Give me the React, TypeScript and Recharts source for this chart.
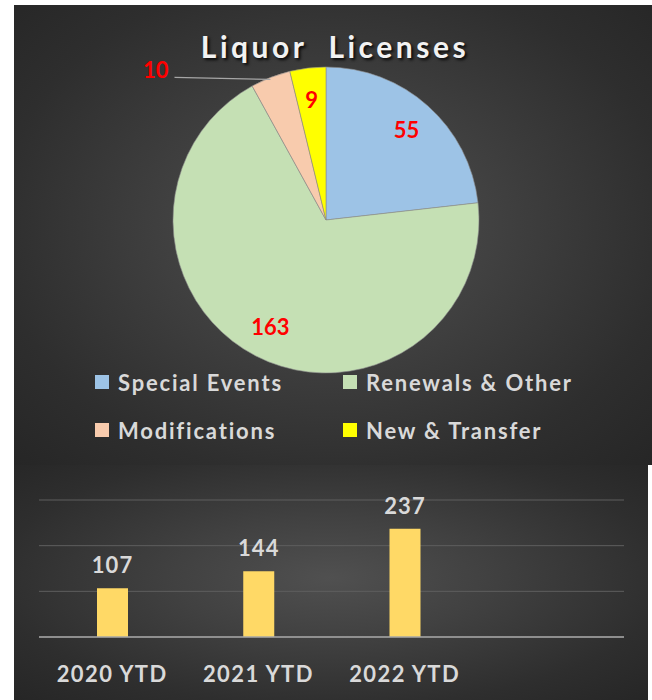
import React from "react";
import {
  PieChart,
  Pie,
  Cell,
  BarChart,
  Bar,
  XAxis,
  YAxis,
  CartesianGrid,
  LabelList,
} from "recharts";

// pie: liquor licenses by type
const SLICE_NAMES = ["Special Events", "Renewals & Other", "Modifications", "New & Transfer"];
const SLICE_VALUES = [55, 163, 10, 9];
const SLICE_COLORS = ["#9dc3e6", "#c5e0b4", "#f8cbad", "#ffff00"];
const OUTSIDE_LABEL = "Modifications";

// bars: year to date totals (4th slot is empty in the original)
const BAR_CATEGORIES = ["2020 YTD", "2021 YTD", "2022 YTD", ""];
const BAR_VALUES = [107, 144, 237, null];
const BAR_TICKS = [0, 100, 200, 300];

const FONT = "Lato, 'Open Sans', sans-serif";
const RAD = Math.PI / 180;

const pieData = SLICE_NAMES.map((name, i) => ({ name, value: SLICE_VALUES[i] }));
const barData = BAR_CATEGORIES.map((cat, i) => ({ cat, value: BAR_VALUES[i] }));

const panelBg =
  "radial-gradient(ellipse at 50% 48%, #505050 0%, #414141 35%, #2e2e2e 75%, #262626 100%)";

function renderSliceLabel(props: any) {
  const { cx, cy, midAngle, outerRadius, value, name } = props;
  const textStyle = { fontFamily: FONT, fontWeight: 700, fontSize: 22 };
  if (name === OUTSIDE_LABEL) {
    const ex = cx + outerRadius * Math.cos(-midAngle * RAD);
    const ey = cy + outerRadius * Math.sin(-midAngle * RAD);
    const lx = ex - 96;
    return (
      <g>
        <line x1={ex} y1={ey + 2} x2={lx} y2={ey} stroke="#a6a6a6" strokeWidth={1.3} />
        <text x={lx - 6} y={ey + 1} textAnchor="end" fill="#ff0000" style={textStyle}>
          {value}
        </text>
      </g>
    );
  }
  const r = outerRadius * 0.79;
  const x = cx + r * Math.cos(-midAngle * RAD);
  const y = cy + r * Math.sin(-midAngle * RAD);
  return (
    <text x={x} y={y} dy={8} textAnchor="middle" fill="#ff0000" style={textStyle}>
      {value}
    </text>
  );
}

function PieLegend() {
  return (
    <div
      style={{
        position: "absolute",
        left: 81,
        top: 366,
        display: "grid",
        gridTemplateColumns: "248px 248px",
        rowGap: 26,
        fontFamily: FONT,
        fontWeight: 700,
        fontSize: 22,
        letterSpacing: 1.8,
        color: "#d9d9d9",
      }}
    >
      {SLICE_NAMES.map((name, i) => (
        <div key={name} style={{ display: "flex", alignItems: "center", height: 22 }}>
          <span
            style={{
              width: 14,
              height: 14,
              background: SLICE_COLORS[i],
              marginRight: 9,
              display: "inline-block",
            }}
          />
          {name}
        </div>
      ))}
    </div>
  );
}

function YearTick(props: any) {
  const { x, y, payload } = props;
  return (
    <text
      x={x}
      y={y}
      dy={37}
      textAnchor="middle"
      fill="#d9d9d9"
      style={{ fontFamily: FONT, fontWeight: 700, fontSize: 22, letterSpacing: 1.4 }}
    >
      {payload.value}
    </text>
  );
}

export default function App() {
  return (
    <div
      style={{
        position: "absolute",
        left: 0,
        top: 0,
        width: 652,
        height: 700,
        background: "#ffffff",
        overflow: "hidden",
      }}
    >
      {/* top panel: pie */}
      <div
        style={{
          position: "absolute",
          left: 14,
          top: 5,
          width: 638,
          height: 460,
          background: panelBg,
        }}
      >
        <div
          style={{
            position: "absolute",
            left: 0,
            top: 26,
            width: 638,
            textAlign: "center",
            fontFamily: FONT,
            fontWeight: 700,
            fontSize: 30,
            lineHeight: "30px",
            letterSpacing: 3.5,
            color: "#f2f2f2",
            textShadow: "2px 2px 3px rgba(0,0,0,0.85)",
            paddingLeft: 4,
            boxSizing: "border-box",
          }}
        >
          Liquor&nbsp; Licenses
        </div>
        <PieChart
          width={638}
          height={460}
          margin={{ top: 0, right: 0, bottom: 0, left: 0 }}
          style={{ position: "absolute", left: 0, top: 0 }}
        >
          <Pie
            data={pieData}
            dataKey="value"
            nameKey="name"
            cx={312}
            cy={215}
            outerRadius={153}
            startAngle={90}
            endAngle={-270}
            stroke="#8c8c8c"
            strokeWidth={0.6}
            label={renderSliceLabel}
            labelLine={false}
            isAnimationActive={false}
          >
            {pieData.map((d, i) => (
              <Cell key={d.name} fill={SLICE_COLORS[i]} />
            ))}
          </Pie>
        </PieChart>
        <PieLegend />
      </div>

      {/* bottom panel: bars */}
      <div
        style={{
          position: "absolute",
          left: 14,
          top: 465,
          width: 634,
          height: 235,
          background: panelBg,
        }}
      >
        <BarChart
          width={634}
          height={235}
          data={barData}
          margin={{ top: 35, right: 24, left: 25, bottom: 33 }}
        >
          <CartesianGrid vertical={false} stroke="#5e5e5e" strokeWidth={1} />
          <YAxis hide domain={[0, 300]} ticks={BAR_TICKS} />
          <XAxis
            dataKey="cat"
            tickLine={false}
            axisLine={{ stroke: "#a6a6a6", strokeWidth: 1.5 }}
            tick={<YearTick />}
            interval={0}
          />
          <Bar dataKey="value" fill="#ffd966" barSize={31} isAnimationActive={false}>
            <LabelList
              dataKey="value"
              position="top"
              offset={15}
              fill="#d9d9d9"
              style={{ fontFamily: FONT, fontWeight: 700, fontSize: 22, letterSpacing: 1 }}
            />
          </Bar>
        </BarChart>
      </div>
    </div>
  );
}
